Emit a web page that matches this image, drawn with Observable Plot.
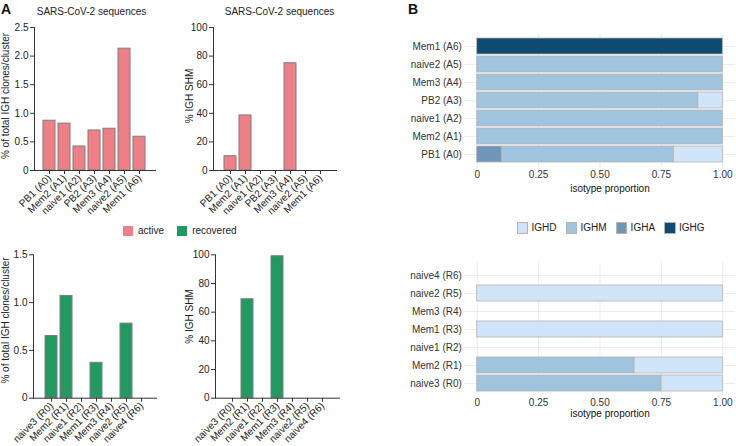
<!DOCTYPE html>
<html>
<head>
<meta charset="utf-8">
<script src="https://cdn.jsdelivr.net/npm/d3@7"></script>
<script src="https://cdn.jsdelivr.net/npm/@observablehq/plot@0.6"></script>
<style>
  html, body { margin: 0; padding: 0; background: #fff; }
  #fig { position: relative; width: 736px; height: 446px; overflow: hidden; font-family: "Liberation Sans", Arial, sans-serif; color: #222; }
  .pane { position: absolute; }
  .tag { position: absolute; font-weight: bold; font-size: 14px; line-height: 14px; color: #111; }
  .leg { position: absolute; display: flex; align-items: center; font-size: 10px; line-height: 12px; color: #222; }
  .leg .sw { display: inline-block; box-sizing: border-box; }
</style>
</head>
<body>
<div id="fig"></div>
<script>
// ---------------- data ----------------
const activeClusters = ["PB1 (A0)", "Mem2 (A1)", "naive1 (A2)", "PB2 (A3)", "Mem3 (A4)", "naive2 (A5)", "Mem1 (A6)"];
const activeClonePct = [0.87, 0.82, 0.42, 0.70, 0.73, 2.13, 0.59];
const activeSHM = [10, 38.5, 0, 0, 75, 0, 0];

const recoveredClusters = ["naive3 (R0)", "Mem2 (R1)", "naive1 (R2)", "Mem1 (R3)", "Mem3 (R4)", "naive2 (R5)", "naive4 (R6)"];
const recoveredClonePct = [0.65, 1.07, 0, 0.37, 0, 0.78, 0];
const recoveredSHM = [0, 69, 0, 99, 0, 0, 0];

const groups = ["active", "recovered"];
const groupColors = ["#ef7f87", "#219a62"];

const isotypes = ["IGHD", "IGHM", "IGHA", "IGHG"];
const isoColors = ["#d0e5f7", "#a0c4de", "#6e96b8", "#0e4b6e"];
const stackOrder = ["IGHG", "IGHA", "IGHM", "IGHD"];

// isotype proportions per cluster (same order as cluster arrays)
const activeIGHD = [0.20, 0, 0, 0.10, 0, 0, 0];
const activeIGHM = [0.70, 1, 1, 0.90, 1, 1, 0];
const activeIGHA = [0.10, 0, 0, 0, 0, 0, 0];
const activeIGHG = [0, 0, 0, 0, 0, 0, 1];

const recoveredIGHD = [0.25, 0.36, 0, 1, 0, 1, 0];
const recoveredIGHM = [0.75, 0.64, 0, 0, 0, 0, 0];
const recoveredIGHA = [0, 0, 0, 0, 0, 0, 0];
const recoveredIGHG = [0, 0, 0, 0, 0, 0, 0];

const clonePctTicks = [0, 0.5, 1.0, 1.5, 2.0, 2.5];
const clonePctTicksR = [0, 0.5, 1.0, 1.5];
const shmTicks = [0, 20, 40, 60, 80, 100];
const propTicks = [0, 0.25, 0.5, 0.75, 1];

const cloneLabel = "% of total IGH clones/cluster";
const shmLabel = "% IGH SHM";
const panelTitle = "SARS-CoV-2 sequences";
const propLabel = "isotype proportion";

// ---------------- helpers ----------------
const FONT = "'Liberation Sans', Arial, sans-serif";
const fig = document.getElementById("fig");

function place(el, left, top) {
  const d = document.createElement("div");
  d.className = "pane";
  d.style.left = left + "px";
  d.style.top = top + "px";
  d.appendChild(el);
  fig.appendChild(d);
}

function barPanel(o) {
  const data = o.clusters.map((c, i) => ({cluster: c, value: o.values[i]}));
  const fmt = o.fmt;
  return Plot.plot({
    width: o.width, height: o.height,
    marginLeft: o.ml, marginRight: o.mr, marginTop: o.mt, marginBottom: o.mb,
    style: {fontFamily: FONT, fontSize: "10px", color: "#222", background: "transparent", overflow: "visible"},
    x: {domain: o.clusters, range: o.xRange, paddingInner: 0.18, paddingOuter: 0},
    y: {domain: o.yDomain},
    marks: [
      Plot.barY(data.filter(d => d.value > 0), {x: "cluster", y: "value", fill: o.fill, stroke: "#7d7d7d", strokeWidth: 1}),
      Plot.axisX({tickSize: 4, tickPadding: 2, tickRotate: -45, label: null, stroke: "#333", fontSize: 10}),
      Plot.axisY({ticks: o.ticks, tickSize: 4, tickPadding: 2, tickFormat: fmt, label: null, stroke: "#333"}),
      Plot.ruleY([0], {stroke: "#333", strokeWidth: 1}),
      Plot.frame({anchor: "left", stroke: "#333", strokeWidth: 1}),
      Plot.text([o.yLabel], {text: d => d, frameAnchor: "left", rotate: -90, textAnchor: "middle", lineAnchor: "middle", dx: o.ldx, dy: o.ldy, fontSize: 10}),
      o.title ? Plot.text([o.title], {text: d => d, frameAnchor: "top", lineAnchor: "middle", dx: o.tdx, dy: -16, fontSize: 10}) : null
    ]
  });
}

function isoPanel(o) {
  const cols = [o.D, o.M, o.A, o.G];
  const rows = [];
  o.clusters.forEach((c, i) => isotypes.forEach((iso, j) => {
    const v = cols[j][i];
    if (v > 0) rows.push({cluster: c, isotype: iso, value: v});
  }));
  return Plot.plot({
    width: 336, height: o.height,
    marginLeft: 64.4, marginRight: 1.4, marginTop: o.mt, marginBottom: o.mb,
    style: {fontFamily: FONT, fontSize: "10px", color: "#333", background: "transparent", overflow: "visible"},
    x: {domain: [-0.05, 1.05]},
    y: {domain: o.clusters.slice().reverse(), range: o.yRange, paddingInner: 0.1, paddingOuter: 0.05},
    color: {domain: isotypes, range: isoColors},
    marks: [
      Plot.gridX({ticks: propTicks, stroke: "#ebebeb", strokeOpacity: 1}),
      Plot.gridY({stroke: "#ebebeb", strokeOpacity: 1}),
      Plot.barX(rows, Plot.stackX({x: "value", y: "cluster", fill: "isotype", z: "isotype", order: stackOrder, stroke: "#b3b3b3", strokeWidth: 0.8})),
      Plot.axisX({ticks: propTicks, tickSize: 0, tickPadding: o.tp, tickFormat: d => d === 0 ? "0" : d.toFixed(2), label: null}),
      Plot.axisY({tickSize: 0, tickPadding: 3, label: null}),
      Plot.text([propLabel], {text: d => d, frameAnchor: "bottom", lineAnchor: "middle", dx: 10, dy: o.ldy, fontSize: 10, fill: "#111"})
    ]
  });
}

const fmtPct = d => d === 0 ? "0" : d.toFixed(1);
const fmtInt = d => String(d);

// ---------------- panel A ----------------
place(barPanel({
  clusters: activeClusters, values: activeClonePct, fill: groupColors[0],
  width: 175, height: 220, ml: 34, mr: 19, mt: 27, mb: 50,
  xRange: [40.5, 148.5], yDomain: [0, 2.5], ticks: clonePctTicks, fmt: fmtPct,
  yLabel: cloneLabel, ldx: -29, ldy: -3, title: panelTitle, tdx: -4
}), 0, 0);

place(barPanel({
  clusters: activeClusters, values: activeSHM, fill: groupColors[0],
  width: 175, height: 220, ml: 38, mr: 13, mt: 27, mb: 50,
  xRange: [46.5, 154.5], yDomain: [0, 100], ticks: shmTicks, fmt: fmtInt,
  yLabel: shmLabel, ldx: -23.5, ldy: -3, title: panelTitle, tdx: 4
}), 175, 0);

place(barPanel({
  clusters: recoveredClusters, values: recoveredClonePct, fill: groupColors[1],
  width: 175, height: 226, ml: 33, mr: 18, mt: 34.3, mb: 48.3,
  xRange: [42.2, 149.2], yDomain: [0, 1.5], ticks: clonePctTicksR, fmt: fmtPct,
  yLabel: cloneLabel, ldx: -28, ldy: -6, title: null
}), 0, 220);

place(barPanel({
  clusters: recoveredClusters, values: recoveredSHM, fill: groupColors[1],
  width: 175, height: 226, ml: 40, mr: 10, mt: 34.3, mb: 48.3,
  xRange: [48.5, 156.5], yDomain: [0, 100], ticks: shmTicks, fmt: fmtInt,
  yLabel: shmLabel, ldx: -25.5, ldy: -10, title: null
}), 175, 220);

// ---------------- panel B ----------------
place(isoPanel({
  clusters: activeClusters, D: activeIGHD, M: activeIGHM, A: activeIGHA, G: activeIGHG,
  height: 200, mt: 33.5, mb: 32.5, yRange: [35.4, 165.6], tp: 2.5, ldy: 20.5
}), 400, 0);

place(isoPanel({
  clusters: recoveredClusters, D: recoveredIGHD, M: recoveredIGHM, A: recoveredIGHA, G: recoveredIGHG,
  height: 206, mt: 42.2, mb: 30.9, yRange: [44, 173.3], tp: 3, ldy: 18
}), 400, 220);

// ---------------- tags ----------------
function tag(t, x, y) {
  const d = document.createElement("div");
  d.className = "tag"; d.textContent = t;
  d.style.left = x + "px"; d.style.top = y + "px";
  fig.appendChild(d);
}
tag("A", 1, 2);
tag("B", 408, 2);

// ---------------- legends ----------------
function legend(names, colors, x, y, sw, gapText, gapItem, border) {
  const d = document.createElement("div");
  d.className = "leg";
  d.style.left = x + "px"; d.style.top = y + "px";
  names.forEach((n, i) => {
    const s = document.createElement("span");
    s.className = "sw";
    s.style.width = sw + "px"; s.style.height = sw + "px";
    s.style.background = colors[i];
    if (border) s.style.border = "1px solid " + border;
    s.style.marginRight = gapText + "px";
    d.appendChild(s);
    const t = document.createElement("span");
    t.textContent = n;
    t.style.marginRight = gapItem + "px";
    d.appendChild(t);
  });
  fig.appendChild(d);
}
legend(groups, groupColors, 123, 225, 10, 5, 13, null);
legend(isotypes, isoColors, 516.5, 222, 11.5, 3.5, 9, "#b3b3b3");
</script>
</body>
</html>
